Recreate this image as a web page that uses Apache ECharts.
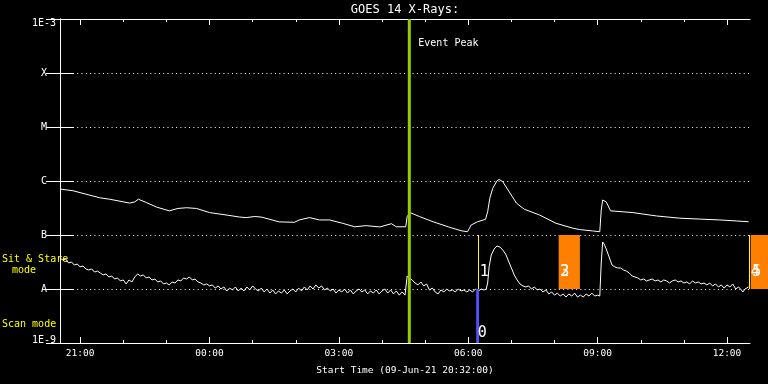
<!DOCTYPE html>
<html><head><meta charset="utf-8">
<script src="https://cdn.jsdelivr.net/npm/echarts@6/dist/echarts.min.js"></script>
<style>html,body{margin:0;padding:0;background:#000}#c{width:768px;height:384px}</style>
</head><body><div id="c"></div><script>
// ---- data ----
const chartTitle = 'GOES 14 X-Rays:';
const startLabel = 'Start Time (09-Jun-21 20:32:00)';
const startClock = '20:32';
const durationMin = 960;                 // minutes shown after start
const timeTickLabels = ['21:00','00:00','03:00','06:00','09:00','12:00'];
const yTickLabels = ['1E-9','A','B','C','M','X','1E-3'];
const yMin = 1e-9, yMax = 1e-3;

// long channel (1-8 A), minutes after start, flux in 1e-7 W/m^2
const longMin = [0,18,55,69,97,104,109,120,134,152,164,176,190,208,231,250,259,271,280,305,326,333,347,361,375,393,410,426,445,461,468,481,483,487,500,519,542,558,567,572,581,592,595,598,602,608,611,616,625,635,646,667,690,714,723,741,751,753,755,760,766,797,830,862,890,918,941,958];
const longFluxE7 = [7.1,6.6,4.9,4.6,3.9,4.1,4.6,4.0,3.3,2.8,3.1,3.2,3.1,2.6,2.35,2.15,2.1,2.2,2.15,1.75,1.72,1.9,2.1,1.9,1.9,1.65,1.42,1.49,1.41,1.62,1.42,1.42,2.2,2.6,2.2,1.76,1.39,1.2,1.15,1.53,1.76,1.95,2.7,4.8,7.3,10.1,10.7,9.7,6.3,3.9,3.0,2.35,1.65,1.33,1.26,1.19,1.15,2.9,4.45,4.1,2.8,2.6,2.25,2.05,1.97,1.9,1.82,1.76];

// short channel (0.5-4 A), minutes after start, flux in 1e-8 W/m^2
const shortMin = [
  0,4,8,12,16,20,24,28,32,36,
  40,44,48,52,56,60,64,68,72,76,
  80,84,88,92,96,100,104,108,112,116,
  120,124,128,132,136,140,144,148,152,156,
  160,164,168,172,176,180,184,188,192,196,
  200,204,208,212,216,220,224,228,232,236,
  240,244,248,252,256,260,264,268,272,276,
  280,284,288,292,296,300,304,308,312,316,
  320,324,328,332,336,340,344,348,352,356,
  360,364,368,372,376,380,384,388,392,396,
  400,404,408,412,416,420,424,428,432,436,
  440,444,448,452,456,460,464,468,472,476,
  480,483,486,490,494,498,502,506,510,514,
  518,522,526,530,534,538,542,546,550,554,
  558,562,566,570,574,578,582,586,590,593,
  595,597,600,604,608,612,616,620,624,628,
  632,636,640,644,648,652,656,660,664,668,
  672,676,680,684,688,692,696,700,704,708,
  712,716,720,724,728,732,736,740,744,748,
  751,753,755,757,760,764,768,772,776,780,
  784,788,792,796,800,804,808,812,816,820,
  824,828,832,836,840,844,848,852,856,860,
  864,868,872,876,880,884,888,892,896,900,
  904,908,912,916,920,924,928,932,936,940,
  944,948,950,953,958];
const shortFluxE8 = [
  3.75,3.44,3.59,3.03,3.16,2.78,2.90,2.56,2.67,2.35,
  2.25,2.35,2.06,2.15,1.98,1.82,1.90,1.67,1.74,1.53,
  1.60,1.41,1.47,1.24,1.47,1.35,1.67,1.90,1.74,1.82,
  1.60,1.67,1.47,1.53,1.35,1.41,1.24,1.29,1.19,1.35,
  1.29,1.47,1.41,1.60,1.53,1.67,1.47,1.53,1.35,1.29,
  1.19,1.24,1.14,1.19,1.04,1.14,1.00,1.09,0.92,1.04,
  0.96,1.09,0.92,1.04,0.92,1.09,0.96,1.14,1.00,0.92,
  1.04,0.88,1.00,0.84,0.96,0.81,0.92,0.84,0.96,0.81,
  0.92,1.00,0.88,1.04,0.92,1.09,0.96,1.14,1.00,1.19,
  1.04,1.14,0.96,1.04,0.92,1.00,0.84,0.96,0.88,1.00,
  0.84,0.96,0.81,0.92,1.00,0.88,0.96,0.81,0.92,0.84,
  0.96,0.81,0.92,1.00,0.84,0.96,0.81,0.92,0.77,0.88,
  0.77,1.74,1.60,1.47,1.29,1.19,1.35,1.14,1.24,0.96,
  1.04,0.88,0.81,0.96,0.88,1.00,0.92,0.96,0.88,1.00,
  0.92,0.96,0.88,0.96,0.88,1.00,0.92,1.00,0.96,1.00,
  1.29,2.56,4.26,5.50,6.26,5.99,5.28,4.45,3.30,2.45,
  1.82,1.47,1.24,1.14,1.09,1.14,1.00,1.09,0.96,1.00,
  0.88,0.96,0.81,0.88,0.77,0.84,0.74,0.81,0.71,0.81,
  0.74,0.84,0.71,0.77,0.71,0.81,0.74,0.84,0.74,0.77,
  0.74,3.03,7.42,6.81,5.50,3.91,2.78,2.56,2.45,2.45,
  2.25,2.15,1.98,1.74,1.67,1.60,1.47,1.53,1.41,1.47,
  1.53,1.41,1.47,1.35,1.47,1.41,1.29,1.41,1.47,1.35,
  1.41,1.29,1.35,1.24,1.41,1.29,1.35,1.24,1.29,1.19,
  1.29,1.14,1.24,1.09,1.19,1.04,1.19,1.09,1.24,1.00,
  1.09,0.96,0.88,1.00,1.09];

// event peak and observation marks (minutes after start)
const eventPeakMin = 486;
const eventPeakLabel = 'Event Peak';
const markLabels = ['0','1','2','3','4','5'];
const markStart  = [579, 582, 694, 694, 959, 961];
const markEnd    = [583, 582, 723, 723, 959, 1000];
const markMode   = ['scan','sit','sit','sit','sit','sit'];
const modeBand   = { scan: [1e-9, 1e-8], sit: [1e-8, 1e-7] };
const modeNames  = { sit: ['Sit & Stare', 'mode'], scan: ['Scan mode'] };

// ---- helpers ----
const F = '"DejaVu Sans Mono", monospace';
const startM = (() => { const [h, m] = startClock.split(':').map(Number); return h * 60 + m; })();
const offsetOf = lab => { const [h, m] = lab.split(':').map(Number); return ((h * 60 + m - startM) % 1440 + 1440) % 1440; };
const clockOf = v => { const t = (startM + Math.round(v)) % 1440; return String(Math.floor(t / 60)).padStart(2, '0') + ':' + String(t % 60).padStart(2, '0'); };
const majorTicks = timeTickLabels.map(offsetOf);
const hourTicks = [];
for (let m = majorTicks[0]; m <= durationMin; m += 60) hourTicks.push(m);

const longData = longMin.map((t, i) => [t, longFluxE7[i] * 1e-7]);
const shortData = shortMin.map((t, i) => [t, shortFluxE8[i] * 1e-8]);
const markData = markStart.map((s, i) => [s, markEnd[i], i]);

const W = '#ffffff';
const xBase = { type: 'value', min: 0, max: durationMin, splitLine: { show: false } };
const yBase = { type: 'log', logBase: 10, min: yMin, max: yMax };

const chart = echarts.init(document.getElementById('c'), null, { renderer: 'canvas' });
chart.setOption({
  backgroundColor: '#000000',
  animation: false,
  grid: { left: 60, right: 18, top: 19, bottom: 41, containLabel: false, outerBoundsMode: 'none' },
  xAxis: [
    Object.assign({}, xBase, {
      position: 'bottom',
      axisLine: { show: true, lineStyle: { color: W, width: 1 } },
      axisTick: { show: true, inside: true, length: 6, customValues: majorTicks, lineStyle: { color: W } },
      axisLabel: { show: true, customValues: majorTicks, formatter: clockOf, color: W, fontFamily: F, fontSize: 9.5, margin: 6 }
    }),
    Object.assign({}, xBase, {
      position: 'bottom',
      axisLine: { show: false },
      axisTick: { show: true, inside: true, length: 3, customValues: hourTicks, lineStyle: { color: W } },
      axisLabel: { show: false }
    }),
    Object.assign({}, xBase, {
      position: 'top',
      axisLine: { show: true, lineStyle: { color: W, width: 1 } },
      axisTick: { show: true, inside: true, length: 6, customValues: majorTicks, lineStyle: { color: W } },
      axisLabel: { show: false }
    }),
    Object.assign({}, xBase, {
      position: 'top',
      axisLine: { show: false },
      axisTick: { show: true, inside: true, length: 3, customValues: hourTicks, lineStyle: { color: W } },
      axisLabel: { show: false }
    })
  ],
  yAxis: [
    Object.assign({}, yBase, {
      position: 'left',
      axisLine: { show: true, lineStyle: { color: W, width: 1 } },
      axisTick: { show: true, inside: true, length: 14, lineStyle: { color: W } },
      splitLine: { show: true, lineStyle: { color: W, width: 1, type: [1, 3.3] } },
      axisLabel: {
        show: true, showMinLabel: true, showMaxLabel: true,
        color: W, fontFamily: F, fontSize: 10, margin: 16, align: 'center',
        formatter: v => {
          const k = Math.round(Math.log10(v)) - Math.round(Math.log10(yMin));
          const s = yTickLabels[k] || '';
          if (k === yTickLabels.length - 1) return '{t|' + s + '}';
          if (k === 0) return '{b|' + s + '}';
          return s;
        },
        rich: {
          t: { padding: [8, 0, 0, 0], color: W, fontFamily: F, fontSize: 10 },
          b: { padding: [0, 0, 6, 0], color: W, fontFamily: F, fontSize: 10 }
        }
      }
    }),
    Object.assign({}, yBase, {
      position: 'right',
      axisLine: { show: true, lineStyle: { color: W, width: 1 } },
      axisTick: { show: true, inside: true, length: 14, lineStyle: { color: W } },
      splitLine: { show: false },
      axisLabel: { show: false }
    })
  ],
  graphic: [
    { type: 'text', x: 405, y: 10, style: { text: chartTitle, fill: W, font: '12px ' + F, align: 'center', verticalAlign: 'middle' } },
    { type: 'text', x: 405, y: 371, style: { text: startLabel, fill: W, font: '9.5px ' + F, align: 'center', verticalAlign: 'middle' } },
    { type: 'text', x: 2, y: 259, style: { text: modeNames.sit[0], fill: '#ffff00', font: '10px ' + F, align: 'left', verticalAlign: 'middle' } },
    { type: 'text', x: 24, y: 270, style: { text: modeNames.sit[1], fill: '#ffff00', font: '10px ' + F, align: 'center', verticalAlign: 'middle' } },
    { type: 'text', x: 2, y: 324, style: { text: modeNames.scan[0], fill: '#ffff00', font: '10px ' + F, align: 'left', verticalAlign: 'middle' } }
  ],
  series: [
    { name: 'long', type: 'line', xAxisIndex: 0, yAxisIndex: 0, data: longData, showSymbol: false, symbol: 'none',
      lineStyle: { color: W, width: 1 }, z: 2 },
    { name: 'short', type: 'line', xAxisIndex: 0, yAxisIndex: 0, data: shortData, showSymbol: false, symbol: 'none',
      lineStyle: { color: W, width: 1 }, z: 2 },
    { name: 'marks', type: 'custom', xAxisIndex: 0, yAxisIndex: 0, clip: false, z: 4, data: markData,
      renderItem: (params, api) => {
        const s = api.value(0), e = api.value(1), i = api.value(2);
        const mode = markMode[i];
        const [lo, hi] = modeBand[mode];
        const p0 = api.coord([s, hi]), p1 = api.coord([e, lo]);
        const children = [];
        if (e > s) {
          children.push({ type: 'rect', shape: { x: p0[0], y: p0[1], width: p1[0] - p0[0], height: p1[1] - p0[1] },
            style: { fill: mode === 'scan' ? '#5050ff' : '#ff8000' } });
        } else {
          const x = Math.round(p0[0]) + 0.5;
          children.push({ type: 'line', shape: { x1: x, y1: p0[1], x2: x, y2: p1[1] },
            style: { stroke: '#ffff00', lineWidth: 1 } });
        }
        children.push({ type: 'text', z2: 10, style: { text: markLabels[i], x: p0[0] + 1.5, y: p1[1] - (mode === 'scan' ? 10 : 17),
          fill: W, font: '15px ' + F, align: 'left', verticalAlign: 'middle' } });
        return { type: 'group', children };
      }
    },
    { name: 'event', type: 'custom', xAxisIndex: 0, yAxisIndex: 0, z: 5, data: [[eventPeakMin]],
      renderItem: (params, api) => {
        const top = api.coord([api.value(0), yMax]), bot = api.coord([api.value(0), yMin]);
        return { type: 'group', children: [
          { type: 'line', shape: { x1: top[0], y1: top[1], x2: bot[0], y2: bot[1] }, style: { stroke: '#99cc00', lineWidth: 3 } },
          { type: 'text', style: { text: eventPeakLabel, x: top[0] + 9, y: top[1] + 24, fill: W, font: '10px ' + F, align: 'left', verticalAlign: 'middle' } }
        ] };
      }
    }
  ]
});
</script></body></html>
